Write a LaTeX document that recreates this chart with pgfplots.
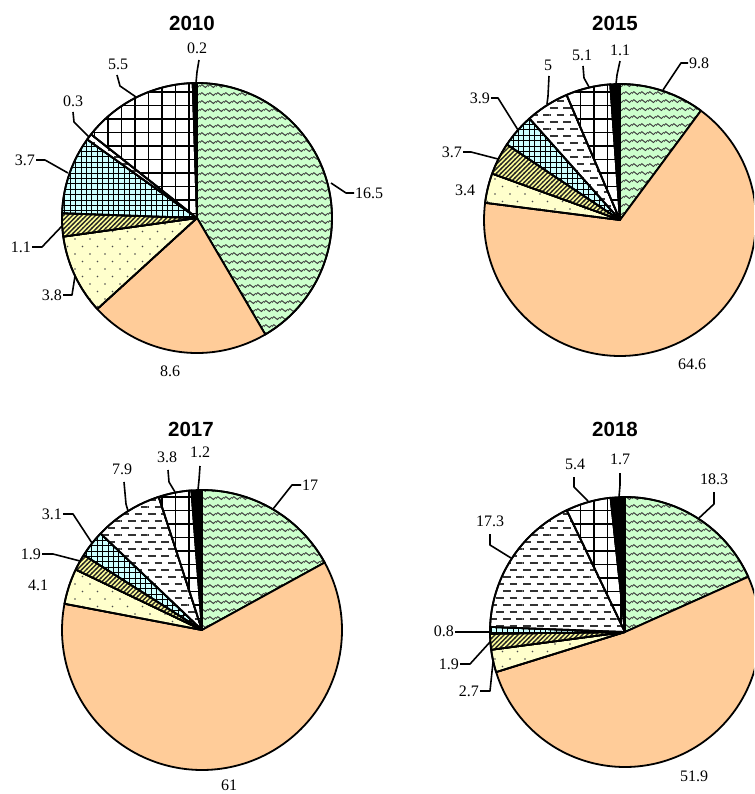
\documentclass[border=0pt]{standalone}
\usepackage{fontspec}
\setmainfont{Liberation Serif}
\newfontfamily\arialfont{Liberation Sans}
\usepackage{pgfplots}
\pgfplotsset{compat=1.18}
\usetikzlibrary{patterns}

\definecolor{cgreen}{HTML}{CCFFCC}
\definecolor{corange}{HTML}{FFCC99}
\definecolor{cyellow}{HTML}{FFFFCC}
\definecolor{chatch}{HTML}{FFFF99}
\definecolor{ccyan}{HTML}{CCFFFF}

% fill patterns (1pt = 1px of the reference)
\pgfdeclarepatternformonly{wave}{\pgfqpoint{0pt}{0pt}}{\pgfqpoint{8pt}{7.5pt}}{\pgfqpoint{8pt}{7.5pt}}{%
  \pgfsetlinewidth{1pt}%
  \pgfpathmoveto{\pgfqpoint{-0.5pt}{2.1pt}}%
  \pgfpathlineto{\pgfqpoint{2pt}{4.6pt}}%
  \pgfpathlineto{\pgfqpoint{6pt}{1.6pt}}%
  \pgfpathlineto{\pgfqpoint{8.5pt}{3.9pt}}%
  \pgfusepath{stroke}}
\pgfdeclarepatternformonly{sdots}{\pgfqpoint{-1.5pt}{-1.5pt}}{\pgfqpoint{13.5pt}{13.5pt}}{\pgfqpoint{15pt}{15pt}}{%
  \pgfpathcircle{\pgfqpoint{0pt}{0pt}}{0.95pt}%
  \pgfpathcircle{\pgfqpoint{7.5pt}{7.5pt}}{0.95pt}%
  \pgfusepath{fill}}
\pgfdeclarepatternformonly{hatch}{\pgfqpoint{-1pt}{-1pt}}{\pgfqpoint{5pt}{5pt}}{\pgfqpoint{4.6pt}{4.6pt}}{%
  \pgfsetlinewidth{1.4pt}%
  \pgfpathmoveto{\pgfqpoint{-0.5pt}{-0.5pt}}%
  \pgfpathlineto{\pgfqpoint{5.1pt}{5.1pt}}%
  \pgfusepath{stroke}}
\pgfdeclarepatternformonly{fgrid}{\pgfqpoint{-1pt}{-1pt}}{\pgfqpoint{5.4pt}{5.4pt}}{\pgfqpoint{5.4pt}{5.4pt}}{%
  \pgfsetlinewidth{0.9pt}%
  \pgfpathmoveto{\pgfqpoint{0pt}{-1pt}}\pgfpathlineto{\pgfqpoint{0pt}{5.4pt}}%
  \pgfpathmoveto{\pgfqpoint{-1pt}{0pt}}\pgfpathlineto{\pgfqpoint{5.4pt}{0pt}}%
  \pgfusepath{stroke}}
\pgfdeclarepatternformonly{cgrid}{\pgfqpoint{-1pt}{-1pt}}{\pgfqpoint{13.5pt}{13.5pt}}{\pgfqpoint{13.5pt}{13.5pt}}{%
  \pgfsetlinewidth{1.1pt}%
  \pgfpathmoveto{\pgfqpoint{0pt}{-1pt}}\pgfpathlineto{\pgfqpoint{0pt}{13.5pt}}%
  \pgfpathmoveto{\pgfqpoint{-1pt}{0pt}}\pgfpathlineto{\pgfqpoint{13.5pt}{0pt}}%
  \pgfusepath{stroke}}
\pgfdeclarepatternformonly{dashes}{\pgfqpoint{0pt}{-1.5pt}}{\pgfqpoint{13.4pt}{12.5pt}}{\pgfqpoint{13.4pt}{14pt}}{%
  \pgfsetlinewidth{1.8pt}%
  \pgfpathmoveto{\pgfqpoint{0.5pt}{0pt}}\pgfpathlineto{\pgfqpoint{8.2pt}{0pt}}%
  \pgfpathmoveto{\pgfqpoint{7.2pt}{7pt}}\pgfpathlineto{\pgfqpoint{13.4pt}{7pt}}%
  \pgfpathmoveto{\pgfqpoint{0pt}{7pt}}\pgfpathlineto{\pgfqpoint{1.5pt}{7pt}}%
  \pgfusepath{stroke}}

\tikzset{
  cat1/.style={preaction={fill=cgreen}, pattern=wave, pattern color=black!75},
  cat2/.style={fill=corange},
  cat3/.style={preaction={fill=cyellow}, pattern=sdots, pattern color=black!70},
  cat4/.style={preaction={fill=chatch}, pattern=hatch, pattern color=black!85},
  cat5/.style={preaction={fill=ccyan}, pattern=fgrid, pattern color=black},
  cat6/.style={preaction={fill=white}, pattern=dashes, pattern color=black!80},
  cat7/.style={preaction={fill=white}, pattern=cgrid, pattern color=black},
  cat8/.style={fill=black},
  lbl/.style={font=\fontsize{16}{19}\selectfont, inner sep=0pt},
  ttl/.style={font=\arialfont\bfseries\fontsize{20.5}{24}\selectfont, inner sep=0pt},
  lead/.style={line width=1.6pt, line join=round},
}

% #1 radius, #2 values (clockwise from 12 o'clock)
\newcommand\drawpie[2]{%
  \gdef\pietot{0}%
  \foreach \v in {#2}{\pgfmathsetmacro\t{\pietot+\v}\global\let\pietot\t}%
  \gdef\piecum{0}%
  \foreach \v [count=\i] in {#2}{%
    \pgfmathsetmacro\pa{90-\piecum/\pietot*360}%
    \pgfmathsetmacro\t{\piecum+\v}%
    \pgfmathsetmacro\pb{90-\t/\pietot*360}%
    \edef\temp{\noexpand\addplot[cat\i, draw=black, line width=1.8pt, line join=round,
      data cs=polar, domain=\pb:\pa, samples=120] {#1} -- (axis cs:0,0) -- cycle;}%
    \temp
    \global\let\piecum\t
  }%
}

\pgfplotsset{pieaxis/.style={anchor=center, x=1pt, y=1pt,
  xmin=-145, xmax=145, ymin=-145, ymax=145, hide axis, clip=false}}

\begin{document}
\begin{tikzpicture}
\useasboundingbox (0,0) rectangle (754pt,-794pt);
\clip (0,0) rectangle (754pt,-794pt);

\begin{axis}[pieaxis, at={(197pt,-218pt)}]
  \drawpie{135}{16.5,8.6,3.8,1.1,3.7,0.3,5.5,0.2}
\end{axis}
\begin{axis}[pieaxis, at={(620pt,-220pt)}]
  \drawpie{136}{9.8,64.6,3.4,3.7,3.9,5,5.1,1.1}
\end{axis}
\begin{axis}[pieaxis, at={(202pt,-630pt)}]
  \drawpie{140}{17,61,4.1,1.9,3.1,7.9,3.8,1.2}
\end{axis}
\begin{axis}[pieaxis, at={(625pt,-632pt)}]
  \drawpie{135}{18.3,51.9,2.7,1.9,0.8,17.3,5.4,1.7}
\end{axis}

\begin{scope}[x=1pt, y=-1pt]
  % titles
  \node[ttl] at (192,23) {2010};
  \node[ttl] at (615,23) {2015};
  \node[ttl] at (191,429) {2017};
  \node[ttl] at (615,429) {2018};

  % 2010
  \draw[lead] (331,183) -- (346,193) -- (354,193);
  \node[lbl, anchor=west] at (355,193) {16.5};
  \node[lbl] at (170,371) {8.6};
  \draw[lead] (63,295) -- (72,295) -- (75,276);
  \node[lbl, anchor=east] at (62,295) {3.8};
  \draw[lead] (32,247) -- (42,247) -- (62,226);
  \node[lbl, anchor=east] at (31,247) {1.1};
  \draw[lead] (36,160) -- (45,160) -- (68,173);
  \node[lbl, anchor=east] at (35,160) {3.7};
  \draw[lead] (73,112) -- (74,122) -- (89,137);
  \node[lbl] at (73,101) {0.3};
  \draw[lead] (117,75) -- (120,86) -- (136,97);
  \node[lbl] at (118,64) {5.5};
  \draw[lead] (199,60) -- (197,72) -- (196,83);
  \node[lbl] at (197,48) {0.2};

  % 2015
  \draw[lead] (663,90) -- (681,63) -- (688,63);
  \node[lbl, anchor=west] at (689,63) {9.8};
  \node[lbl] at (692,364) {64.6};
  \node[lbl] at (465,190) {3.4};
  \draw[lead] (463,152) -- (471,152) -- (498,159);
  \node[lbl, anchor=east] at (462,152) {3.7};
  \draw[lead] (491,98) -- (498,98) -- (518,130);
  \node[lbl, anchor=east] at (490,98) {3.9};
  \draw[lead] (549,76) -- (548,96) -- (547,104);
  \node[lbl] at (548,65) {5};
  \draw[lead] (583,66) -- (584,78) -- (589,87);
  \node[lbl] at (582,55) {5.1};
  \draw[lead] (620,61) -- (617,75) -- (616,84);
  \node[lbl] at (620,50) {1.1};

  % 2017
  \draw[lead] (273,509) -- (292,485) -- (301,485);
  \node[lbl, anchor=west] at (302,485) {17};
  \node[lbl] at (229,785) {61};
  \node[lbl] at (38,585) {4.1};
  \draw[lead] (42,554) -- (53,554) -- (80,561);
  \node[lbl, anchor=east] at (41,554) {1.9};
  \draw[lead] (63,514) -- (73,514) -- (92,543);
  \node[lbl, anchor=east] at (62,514) {3.1};
  \draw[lead] (124,482) -- (126,504) -- (128,511);
  \node[lbl] at (122,469) {7.9};
  \draw[lead] (168,470) -- (169,482) -- (175,492);
  \node[lbl] at (167,457) {3.8};
  \draw[lead] (200,466) -- (199,480) -- (198,490);
  \node[lbl] at (200,452) {1.2};

  % 2018
  \draw[lead] (714,492) -- (714,504) -- (699,518);
  \node[lbl] at (714,479) {18.3};
  \node[lbl] at (694,776) {51.9};
  \draw[lead] (480,691) -- (490,691) -- (493,662);
  \node[lbl, anchor=east] at (479,691) {2.7};
  \draw[lead] (460,664) -- (470,664) -- (490,642);
  \node[lbl, anchor=east] at (459,664) {1.9};
  \draw[lead] (455,632) -- (491,632);
  \node[lbl, anchor=east] at (454,631) {0.8};
  \draw[lead] (490,534) -- (490,545) -- (511,558);
  \node[lbl] at (490,521) {17.3};
  \draw[lead] (574,477) -- (574,487) -- (588,501);
  \node[lbl] at (575,464) {5.4};
  \draw[lead] (620,473) -- (620,485) -- (619,497);
  \node[lbl] at (620,459) {1.7};
\end{scope}
\end{tikzpicture}
\end{document}
